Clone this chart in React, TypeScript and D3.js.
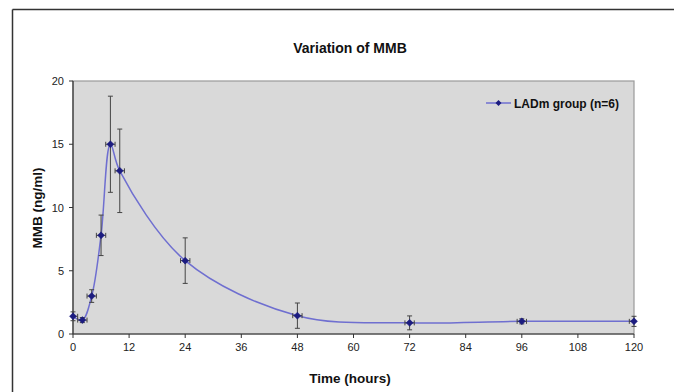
import React from "react";
import * as d3 from "d3";

const times = [0, 2, 4, 6, 8, 10, 24, 48, 72, 96, 120];
const means = [1.4, 1.1, 3.0, 7.8, 15.0, 12.9, 5.8, 1.45, 0.88, 1.0, 1.0];
const yErrors = [0.35, 0.2, 0.5, 1.6, 3.8, 3.3, 1.8, 1.0, 0.55, 0.2, 0.4];
const xErrors = [1, 1, 1, 1, 1, 1, 1, 1, 1, 1, 1];
const xTicks = [0, 12, 24, 36, 48, 60, 72, 84, 96, 108, 120];
const yTicks = [0, 5, 10, 15, 20];
const title = "Variation of MMB";
const xTitle = "Time (hours)";
const yTitle = "MMB (ng/ml)";
const seriesName = "LADm group (n=6)";

export default function App() {
  const W = 674, H = 392;
  const left = 73, right = 634, top = 81, bottom = 334;
  const x = d3.scaleLinear().domain([0, 120]).range([left, right]);
  const y = d3.scaleLinear().domain([0, 20]).range([bottom, top]);
  const pts = times.map((t, i) => [t, means[i]] as [number, number]);
  const line = d3
    .line<[number, number]>()
    .x((d) => x(d[0]))
    .y((d) => y(d[1]))
    .curve(d3.curveCatmullRom.alpha(0.5));
  const font = "'Liberation Sans', Arial, sans-serif";
  const errColor = "#444";
  const cap = 2.5;
  return (
    <svg
      width={W}
      height={H}
      style={{ position: "absolute", left: 0, top: 0, background: "#fff" }}
      fontFamily={font}
    >
      <rect x={0} y={0} width={W} height={H} fill="#fff" />
      {/* outer frame */}
      <line x1={12.5} y1={9.5} x2={W} y2={9.5} stroke="#333" strokeWidth={1.5} />
      <line x1={12.5} y1={9.5} x2={12.5} y2={H} stroke="#333" strokeWidth={1.5} />
      <text x={350} y={53} textAnchor="middle" fontSize={14} fontWeight="bold" fill="#111">
        {title}
      </text>
      {/* plot area */}
      <rect x={left} y={top} width={right - left} height={bottom - top} fill="#d9d9d9" stroke="#9a9a9a" strokeWidth={1.2} />
      {/* axes */}
      <line x1={left} y1={top} x2={left} y2={bottom} stroke="#333" strokeWidth={1.2} />
      <line x1={left} y1={bottom} x2={right} y2={bottom} stroke="#333" strokeWidth={1.2} />
      {yTicks.map((t) => (
        <g key={"y" + t}>
          <line x1={left - 4} x2={left} y1={y(t)} y2={y(t)} stroke="#333" />
          <text x={left - 9} y={y(t) + 4} textAnchor="end" fontSize={11} fill="#222">
            {t}
          </text>
        </g>
      ))}
      {xTicks.map((t) => (
        <g key={"x" + t}>
          <line x1={x(t)} x2={x(t)} y1={bottom} y2={bottom + 4} stroke="#333" />
          <text x={x(t)} y={bottom + 17} textAnchor="middle" fontSize={11} fill="#222">
            {t}
          </text>
        </g>
      ))}
      <text x={350} y={383} textAnchor="middle" fontSize={13.5} fontWeight="bold" fill="#111">
        {xTitle}
      </text>
      <text
        transform={`translate(42,208) rotate(-90)`}
        textAnchor="middle"
        fontSize={13.5}
        fontWeight="bold"
        fill="#111"
      >
        {yTitle}
      </text>
      {/* curve */}
      <path d={line(pts) || ""} fill="none" stroke="#6f6fd0" strokeWidth={1.5} />
      {/* error bars */}
      {times.map((t, i) => {
        const cx = x(t), cy = y(means[i]);
        const y1 = y(means[i] + yErrors[i]), y2 = y(means[i] - yErrors[i]);
        const x1 = x(Math.max(0, t - xErrors[i])), x2 = x(Math.min(120, t + xErrors[i]));
        return (
          <g key={"e" + i} stroke={errColor} strokeWidth={1}>
            <line x1={cx} x2={cx} y1={y1} y2={y2} />
            <line x1={cx - cap} x2={cx + cap} y1={y1} y2={y1} />
            <line x1={cx - cap} x2={cx + cap} y1={y2} y2={y2} />
            <line x1={x1} x2={x2} y1={cy} y2={cy} />
            <line x1={x1} x2={x1} y1={cy - cap} y2={cy + cap} />
            <line x1={x2} x2={x2} y1={cy - cap} y2={cy + cap} />
          </g>
        );
      })}
      {/* markers */}
      {times.map((t, i) => {
        const cx = x(t), cy = y(means[i]);
        const s = 3.5;
        return (
          <path
            key={"m" + i}
            d={`M${cx},${cy - s}L${cx + s},${cy}L${cx},${cy + s}L${cx - s},${cy}Z`}
            fill="#1c1c80"
            stroke="#1c1c80"
            strokeWidth={0.5}
          />
        );
      })}
      {/* legend */}
      <line x1={486} x2={511} y1={103} y2={103} stroke="#6f6fd0" strokeWidth={1.5} />
      <path d="M498.5,100L501.5,103L498.5,106L495.5,103Z" fill="#1c1c80" />
      <text x={514} y={107.5} fontSize={12} fontWeight="bold" fill="#111">
        {seriesName}
      </text>
    </svg>
  );
}
